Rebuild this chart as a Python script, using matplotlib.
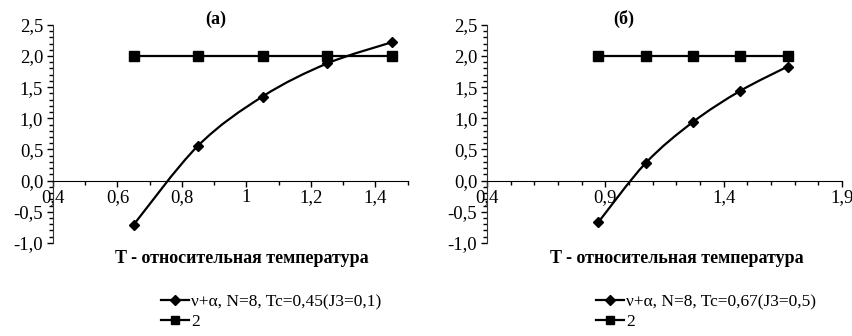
import matplotlib
matplotlib.use("Agg")
import matplotlib.pyplot as plt
from matplotlib.path import Path
from matplotlib.patches import PathPatch
from matplotlib.lines import Line2D
from matplotlib.ticker import MultipleLocator, FixedLocator, FuncFormatter

plt.rcParams['font.family'] = ['Liberation Serif', 'DejaVu Serif']

# данные (a)
t_a = [0.65, 0.85, 1.05, 1.25, 1.45]
nu_a = [-0.71, 0.56, 1.35, 1.88, 2.22]
# данные (б)
t_b = [0.87, 1.07, 1.27, 1.47, 1.67]
nu_b = [-0.67, 0.28, 0.94, 1.44, 1.83]
level = [2, 2, 2, 2, 2]

xticks_a = [0.4, 0.6, 0.8, 1.0, 1.2, 1.4]
xticks_b = [0.4, 0.9, 1.4, 1.9]

labels_a = 'ν+α, N=8, Tc=0,45(J3=0,1)'
labels_b = 'ν+α, N=8, Tc=0,67(J3=0,5)'


def smooth_path(x, y):
    # сглаживание как в Excel (кубические кривые Безье)
    pts = list(zip(x, y))
    n = len(pts)
    verts = [pts[0]]
    codes = [Path.MOVETO]
    for i in range(n - 1):
        p0 = pts[i - 1] if i > 0 else pts[i]
        p1 = pts[i]
        p2 = pts[i + 1]
        p3 = pts[i + 2] if i + 2 < n else pts[i + 1]
        c1 = (p1[0] + (p2[0] - p0[0]) / 6, p1[1] + (p2[1] - p0[1]) / 6)
        c2 = (p2[0] - (p3[0] - p1[0]) / 6, p2[1] - (p3[1] - p1[1]) / 6)
        verts += [c1, c2, p2]
        codes += [Path.CURVE4] * 3
    return Path(verts, codes)


def fmt_y(v, pos):
    return ('%.1f' % v).replace('.', ',')


def fmt_x(v, pos):
    s = ('%.1f' % v).rstrip('0').rstrip('.')
    return s.replace('.', ',')


fig = plt.figure(figsize=(8.53, 3.36), dpi=100)

panels = [
    (0.062, t_a, nu_a, 1.5, xticks_a, '(а)', labels_a, 0.179, 0.46),
    (0.571, t_b, nu_b, 1.9, xticks_b, '(б)', labels_b, 0.689, 0.385),
]

for left, t, nu, xmax, xt, title, lab, legx, tx in panels:
    ax = fig.add_axes([left, 0.277, 0.416, 0.649])
    ax.add_patch(PathPatch(smooth_path(t, nu), facecolor='none',
                           edgecolor='black', lw=1.6, zorder=2))
    ax.plot(t, nu, linestyle='none', marker='D', color='black', markersize=5, zorder=3)
    ax.plot(t, level, color='black', lw=1.6, marker='s', markersize=7, zorder=3)

    ax.set_xlim(0.4, xmax)
    ax.set_ylim(-1.0, 2.5)
    ax.spines['top'].set_visible(False)
    ax.spines['right'].set_visible(False)
    ax.spines['bottom'].set_position(('data', 0))
    ax.spines['left'].set_color('#333333')
    ax.xaxis.set_major_locator(FixedLocator(xt))
    ax.xaxis.set_minor_locator(MultipleLocator(0.1))
    ax.yaxis.set_major_locator(MultipleLocator(0.5))
    ax.yaxis.set_minor_locator(MultipleLocator(0.1))
    ax.xaxis.set_major_formatter(FuncFormatter(fmt_x))
    ax.yaxis.set_major_formatter(FuncFormatter(fmt_y))
    ax.tick_params(axis='both', which='major', labelsize=13.5, length=4, width=1, direction='out')
    ax.tick_params(axis='both', which='minor', length=3, width=1, direction='out')
    ax.tick_params(axis='x', pad=2)
    ax.tick_params(axis='y', pad=3)
    ax.set_title(title, fontsize=13, fontweight='bold', x=tx, y=0.965)

    fig.text(legx + 0.105, 0.232, 'T - относительная температура', fontsize=13,
             fontweight='bold', ha='center', va='center')

    handles = [
        Line2D([], [], color='black', lw=1.6, marker='D', markersize=5),
        Line2D([], [], color='black', lw=1.6, marker='s', markersize=6),
    ]
    fig.legend(handles, [lab, '2'], loc='upper left', bbox_to_anchor=(legx, 0.15),
               frameon=False, fontsize=12.5, handlelength=1.6, handletextpad=0.1,
               labelspacing=0.2, borderpad=0)

fig.savefig('out.png', dpi=100)
